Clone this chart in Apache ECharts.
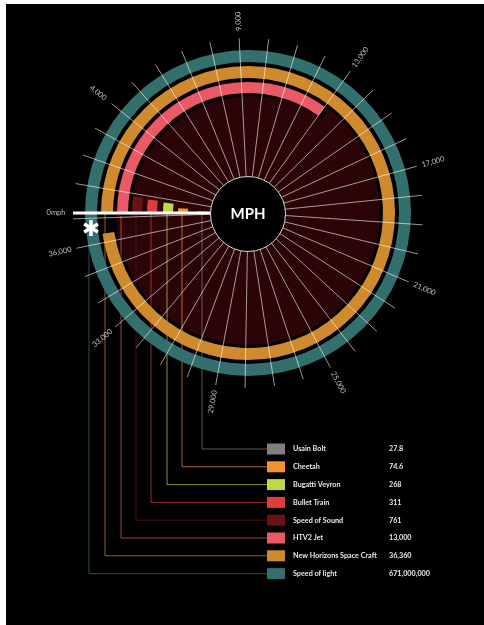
<!DOCTYPE html>
<html>
<head>
<meta charset="utf-8">
<title>MPH</title>
<script src="https://cdn.jsdelivr.net/npm/echarts@6/dist/echarts.min.js"></script>
<style>
	html, body { margin: 0; padding: 0; background: #fff; }
	#main { width: 484px; height: 625px; }
</style>
</head>
<body>
<div id="main"></div>
<script>
// 数据
var names = [ 'Usain Bolt', 'Cheetah', 'Bugatti Veyron', 'Bullet Train', 'Speed of Sound',
		'HTV2 Jet', 'New Horizons Space Craft', 'Speed of light' ];
var speeds = [ 27.8, 74.6, 268, 311, 761, 13000, 36360, 671000000 ];
// how far each arc runs round the dial in the picture (mph on the dial);
// the small ones are blown up in the original, light is a full ring
var drawnSweep = [ 200, 410, 740, 800, 860, 13000, 36360, 37200 ];
var colors = [ '#7f7f7f', '#f29433', '#c0d747', '#e03c3c', '#6a1214',
		'#ea5a66', '#d08a2e', '#33706d' ];
var tickValues = [ 0, 4000, 9000, 13000, 17000, 21000, 25000, 29000, 33000, 36000 ];
var tickLabels = [ '0mph', '4,000', '9,000', '13,000', '17,000', '21,000', '25,000',
		'29,000', '33,000', '36,000' ];

// 布局
var CX = 248, CY = 213;
var DIAL_MAX = 37200; // mph for one full turn
var ringRadius = [ [ 40, 50 ], [ 60, 70 ], [ 75, 85 ], [ 91, 101 ], [ 106, 116 ],
		[ 120, 131 ], [ 135, 147 ], [ 151, 163 ] ];
var DISC_R = [ 37, 132 ];
var LINE_R = [ 37, 175 ];
var LABEL_R = 192;
var LEG_LEFT = 267, LEG_TOP = 443.5, ITEM_H = 11, ITEM_GAP = 6.8;

var myChart = echarts.init(document.getElementById('main'));

function fmt(v) {
	return v.toLocaleString('en-US');
}

// keep radial labels readable
function labelRotate(v) {
	var a = 180 - v / DIAL_MAX * 360;
	if (a > 180) a -= 360;
	if (a <= -180) a += 360;
	if (a > 96) a -= 180;
	else if (a < -96) a += 180;
	return a;
}

function dialAxis(idx, show) {
	return {
		polarIndex : idx,
		type : 'value',
		min : 0,
		max : DIAL_MAX,
		startAngle : 180,
		clockwise : true,
		show : show
	};
}

var polar = [], angleAxis = [], radiusAxis = [], series = [];

// dark disc behind everything
polar.push({ center : [ CX, CY ], radius : DISC_R });
angleAxis.push(dialAxis(0, false));
radiusAxis.push({ polarIndex : 0, type : 'category', data : [ 'disc' ], show : false });
series.push({
	type : 'bar',
	coordinateSystem : 'polar',
	polarIndex : 0,
	barWidth : '100%',
	data : [ DIAL_MAX ],
	itemStyle : { color : '#2a0406' },
	silent : true,
	z : 0
});

// one ring per item
names.forEach(function(name, i) {
	var idx = i + 1;
	polar.push({ center : [ CX, CY ], radius : ringRadius[i] });
	angleAxis.push(dialAxis(idx, false));
	radiusAxis.push({ polarIndex : idx, type : 'category', data : [ name ], show : false });
	var style = { color : colors[i] };
	if (name == 'HTV2 Jet') {
		style.shadowColor = 'rgba(0,0,0,0.9)';
		style.shadowOffsetX = 3;
		style.shadowOffsetY = 3;
		style.shadowBlur = 1;
	}
	series.push({
		name : name,
		type : 'bar',
		coordinateSystem : 'polar',
		polarIndex : idx,
		barWidth : '100%',
		data : [ drawnSweep[i] ],
		itemStyle : style,
		z : 2
	});
});

// radial lines every 1,000 mph
var lineIdx = polar.length;
polar.push({ center : [ CX, CY ], radius : LINE_R });
angleAxis.push({
	polarIndex : lineIdx,
	type : 'value',
	min : 0,
	max : DIAL_MAX,
	interval : 1000,
	startAngle : 180,
	clockwise : true,
	z : 5,
	axisLine : { show : false },
	axisTick : { show : false },
	axisLabel : { show : false },
	splitLine : {
		show : true,
		lineStyle : { color : 'rgba(255,255,255,0.75)', width : 0.8 }
	}
});
radiusAxis.push({ polarIndex : lineIdx, type : 'value', show : false });

// tick labels
var labIdx = polar.length;
polar.push({ center : [ CX, CY ], radius : [ 0, 200 ] });
angleAxis.push(dialAxis(labIdx, false));
radiusAxis.push({ polarIndex : labIdx, type : 'value', min : 0, max : 200, show : false });
series.push({
	type : 'scatter',
	coordinateSystem : 'polar',
	polarIndex : labIdx,
	symbolSize : 0,
	silent : true,
	z : 6,
	label : {
		show : true,
		position : 'inside',
		color : '#e4e4e4',
		fontSize : 7.5,
		fontFamily : 'Lato',
		formatter : function(p) {
			return tickLabels[p.dataIndex];
		}
	},
	data : tickValues.map(function(v) {
		return { value : [ LABEL_R, v ], label : { rotate : labelRotate(v) } };
	})
});

// 引线 from each arc down to its legend row
var graphic = [];
names.forEach(function(name, i) {
	var x = CX - ringRadius[i][1] + 4;
	var y = LEG_TOP + ITEM_H / 2 + i * (ITEM_H + ITEM_GAP);
	graphic.push({
		type : 'polyline',
		z : 1,
		silent : true,
		shape : { points : [ [ x, CY + 1 ], [ x, y ], [ LEG_LEFT, y ] ] },
		style : { fill : null, stroke : echarts.color.modifyAlpha(colors[i], 0.7), lineWidth : 1 }
	});
});
// 0mph bar, centre disc and asterisk
graphic.push({
	type : 'line', z : 10, silent : true,
	shape : { x1 : CX - LINE_R[1], y1 : CY, x2 : CX - 37, y2 : CY },
	style : { stroke : '#fff', lineWidth : 3 }
});
graphic.push({
	type : 'circle', z : 10, silent : true,
	shape : { cx : CX, cy : CY + 1, r : 37.5 },
	style : { fill : '#000', stroke : '#d8d8d8', lineWidth : 1 }
});
graphic.push({
	type : 'text', z : 11, silent : true,
	style : {
		text : 'MPH', x : CX, y : CY + 1,
		align : 'center', verticalAlign : 'middle',
		textAlign : 'center', textVerticalAlign : 'middle',
		fill : '#fff', font : 'bold 15px Lato'
	}
});
[ 90, 30, -30 ].forEach(function(deg) {
	var a = deg * Math.PI / 180, h = 8;
	graphic.push({
		type : 'line', z : 10, silent : true,
		shape : { x1 : 91 - h * Math.cos(a), y1 : 228 + h * Math.sin(a),
			x2 : 91 + h * Math.cos(a), y2 : 228 - h * Math.sin(a) },
		style : { stroke : '#fff', lineWidth : 3.5 }
	});
});
// white frame on top and left of the poster
graphic.push({ type : 'rect', z : 20, silent : true, shape : { x : 0, y : 0, width : 484, height : 4 }, style : { fill : '#fff' } });
graphic.push({ type : 'rect', z : 20, silent : true, shape : { x : 0, y : 0, width : 6, height : 625 }, style : { fill : '#fff' } });

var legendFont = { color : '#e8e8e8', fontFamily : 'Lato', fontWeight : 'bold', fontSize : 7.2, lineHeight : ITEM_H };

var option = {
	backgroundColor : '#000',
	animation : false,
	polar : polar,
	angleAxis : angleAxis,
	radiusAxis : radiusAxis,
	legend : {
		data : names,
		orient : 'vertical',
		left : LEG_LEFT,
		top : LEG_TOP,
		padding : 0,
		itemWidth : 18,
		itemHeight : ITEM_H,
		itemGap : ITEM_GAP,
		icon : 'rect',
		selectedMode : false,
		formatter : function(name) {
			return '{n|' + name + '}{v|' + fmt(speeds[names.indexOf(name)]) + '}';
		},
		textStyle : echarts.util.extend({
			rich : {
				n : echarts.util.extend({ width : 96, padding : [ 0, 0, 0, 3 ] }, legendFont),
				v : echarts.util.extend({}, legendFont)
			}
		}, legendFont)
	},
	graphic : graphic,
	series : series
};
myChart.setOption(option);
</script>
</body>
</html>
